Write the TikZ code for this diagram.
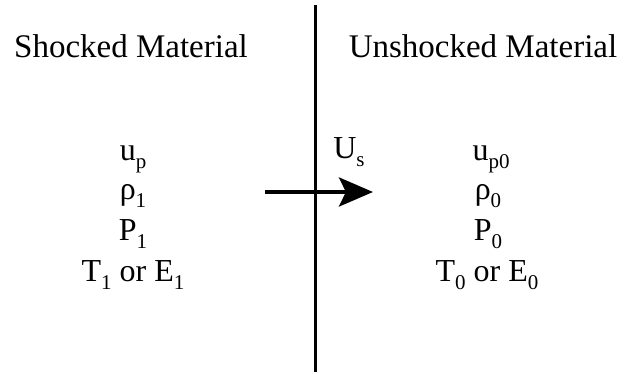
\documentclass[tikz,border=0pt]{standalone}
\usepackage{fontspec}
\setmainfont{Liberation Serif}
\newfontfamily\timesfam{Liberation Serif}
\usetikzlibrary{arrows.meta}
\newcommand\lowsub[1]{\raisebox{-0.22em}{\fontsize{21}{21}\selectfont #1}}
\tikzset{
  lbl/.style={inner sep=0pt, anchor=base, font=\timesfam\fontsize{33}{40}\selectfont},
  var/.style={inner sep=0pt, anchor=base, font=\timesfam\fontsize{32}{38}\selectfont},
  front/.style={line width=3pt, black},
  shockarrow/.style={line width=4.5pt, -{Stealth[length=34pt, width=29pt, inset=7pt]}}
}
\begin{document}
\begin{tikzpicture}[x=1pt, y=-1pt]
\useasboundingbox (0,0) rectangle (627,374);
\coordinate (ftop) at (315,5);
\coordinate (fbot) at (315,372);
\draw[front] (ftop) -- (fbot);
\node[lbl] (hl) at (131,58) {Shocked Material};
\node[lbl] (hr) at (483,58) {Unshocked Material};
\node[var] (l1) at (133,161) {u\lowsub{p}};
\node[var] (l2) at (133,200) {ρ\lowsub{1}};
\node[var] (l3) at (133,241) {P\lowsub{1}};
\node[var] (l4) at (133,282) {T\lowsub{1} or E\lowsub{1}};
\node[var] (r1) at (491,161) {u\lowsub{p0}};
\node[var] (r2) at (488,200) {ρ\lowsub{0}};
\node[var] (r3) at (488,241) {P\lowsub{0}};
\node[var] (r4) at (487,282) {T\lowsub{0} or E\lowsub{0}};
\node[var] (us) at (349,159) {U\lowsub{s}};
\coordinate (a0) at (265,192);
\coordinate (a1) at (373,192);
\draw[shockarrow] (a0) -- (a1);
\end{tikzpicture}
\end{document}
